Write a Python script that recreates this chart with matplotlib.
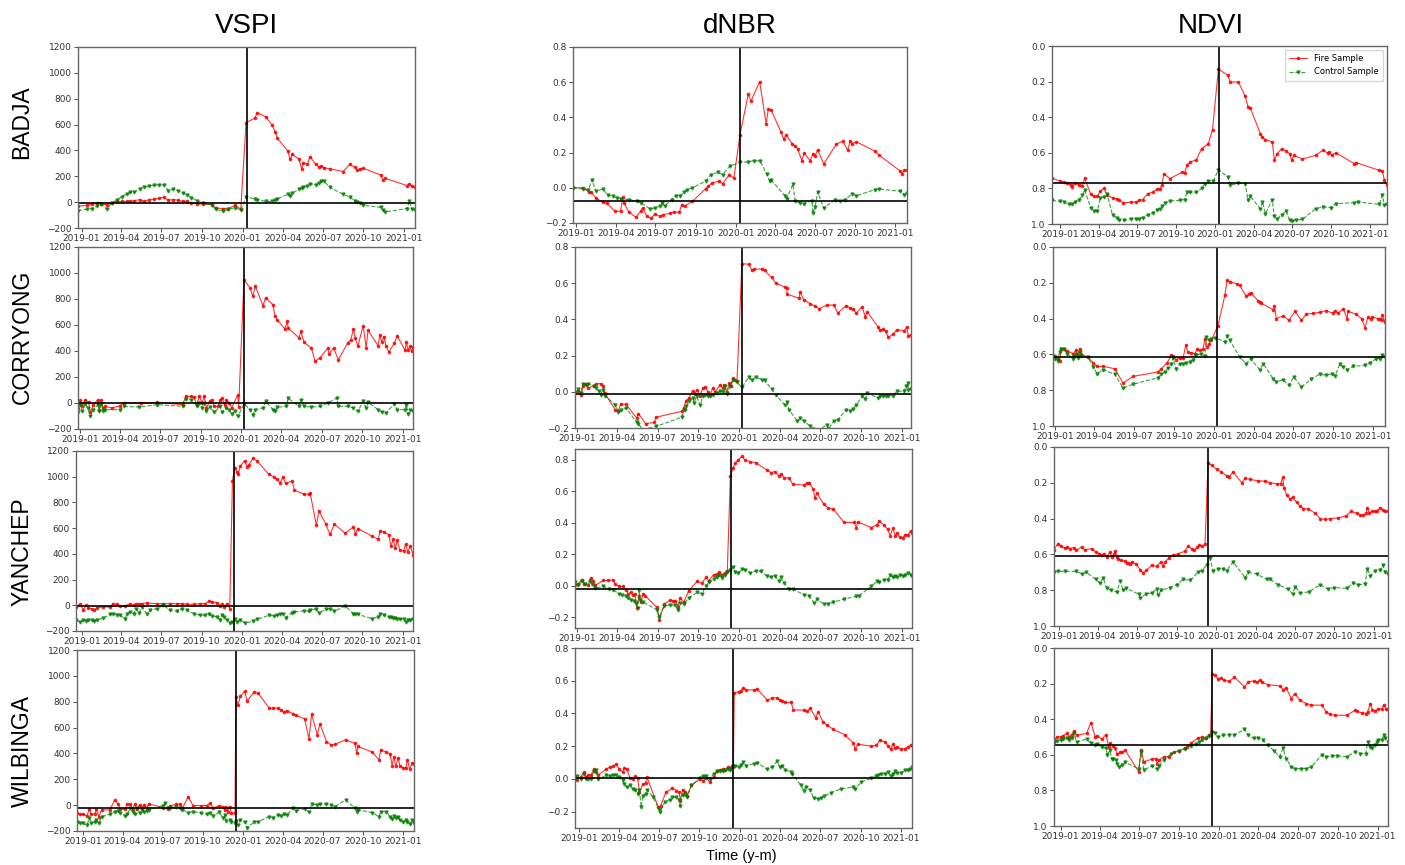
import numpy as np
import pandas as pd
import matplotlib
matplotlib.use('Agg')
import matplotlib.pyplot as plt
import matplotlib.dates as mdates

START = pd.Timestamp('2019-01-01')

SITES = ['BADJA', 'CORRYONG', 'YANCHEP', 'WILBINGA']
INDICES = ['VSPI', 'dNBR', 'NDVI']

# fire date per site (days since 2019-01-01)
FIRE_DAY = [374, 371, 346, 350]
# pre-fire reference level per site
BASE_VSPI = [-5, -3, -2, -19]
BASE_DNBR = [-0.077, -0.01, -0.021, 0.004]
BASE_NDVI = [0.77, 0.615, 0.607, 0.547]

# ---------------- BADJA ----------------
badja_vspi_days = [-8, 13, 23, 34, 45, 57, 68, 81, 91, 102, 111, 119, 132, 142, 153, 164, 176, 187, 197, 208,
                   219, 231, 240, 249, 262, 276, 295, 304, 321, 333, 348, 361, 373, 393, 398, 418, 431, 439, 444, 467,
                   473, 478, 493, 499, 503, 512, 518, 531, 538, 544, 550, 563, 593, 608, 620, 625, 631, 639, 678, 683,
                   689, 738, 743, 749, 756]
badja_vspi_fire = [-30, -25, -15, -10, -15, -20, -5, 5, 5, 5, 5, 10, 20, 5, 20, 22, 30, 38, 15, 20,
                   15, 5, 5, -5, -12, -15, -20, -45, -50, -50, -25, -55, 615, 650, 692, 660, 600, 545, 495, 398,
                   330, 372, 330, 258, 305, 294, 352, 292, 272, 276, 266, 258, 237, 292, 270, 247, 258, 262, 210, 172,
                   183, 128, 142, 122, 118]
badja_vspi_ctrl = [-65, -55, -50, -30, -15, -55, -10, 20, 40, 65, 75, 75, 105, 115, 125, 130, 135, 130, 90, 100,
                   90, 70, 55, 35, 10, -10, -20, -55, -70, -55, -45, -60, 40, 25, 20, 5, 5, 15, 25, 60,
                   50, 70, 100, 110, 115, 125, 140, 135, 150, 160, 160, 115, 60, 40, 10, 0, -10, -25, -40, -60,
                   -75, -50, 10, -55, -60]

badja_dnbr_fire_days = [-8, 15, 29, 34, 44, 60, 69, 88, 101, 106, 109, 120, 136, 147, 152, 161, 171, 180, 191, 199,
                        214, 224, 236, 241, 249, 266, 296, 302, 310, 327, 335, 350, 361, 375, 394, 400, 420, 435, 440, 446,
                        469, 475, 481, 494, 502, 507, 517, 522, 536, 542, 547, 553, 567, 596, 611, 622, 628, 632, 642, 685,
                        693, 743, 747, 752, 758]
badja_dnbr_fire = [0.0, 0.0, -0.026, -0.025, -0.058, -0.08, -0.087, -0.133, -0.133, -0.054,
                   -0.087, -0.137, -0.168, -0.133, -0.113, -0.162, -0.172, -0.149, -0.162, -0.152,
                   -0.145, -0.137, -0.139, -0.096, -0.102, -0.077, -0.005, 0.008, 0.027, 0.037,
                   0.022, 0.075, 0.056, 0.302, 0.533, 0.491, 0.603, 0.364, 0.448, 0.444,
                   0.317, 0.277, 0.302, 0.251, 0.236, 0.222, 0.154, 0.198, 0.154, 0.192,
                   0.179, 0.217, 0.135, 0.249, 0.264, 0.213, 0.268, 0.251, 0.262, 0.207,
                   0.188, 0.094, 0.08, 0.099, 0.099]
badja_dnbr_ctrl_days = [-8, 15, 27, 36, 44, 60, 73, 84, 93, 103, 121, 138, 149, 168, 180, 191, 195, 203, 218, 228,
                        237, 247, 253, 266, 296, 308, 325, 335, 351, 375, 394, 406, 421, 436, 443, 446, 479, 482, 496, 502,
                        513, 522, 540, 542, 547, 553, 567, 593, 605, 616, 632, 642, 685, 693, 743, 752, 758]
badja_dnbr_ctrl = [0.0, -0.007, -0.01, 0.046, -0.02, -0.007, -0.043, -0.048, -0.058, -0.064,
                   -0.067, -0.077, -0.087, -0.119, -0.115, -0.105, -0.087, -0.102, -0.067, -0.045,
                   -0.045, -0.026, -0.011, 0.0, 0.037, 0.075, 0.088, 0.075, 0.122, 0.145,
                   0.147, 0.154, 0.152, 0.08, 0.037, 0.046, -0.048, -0.062, 0.019, -0.077,
                   -0.087, -0.09, -0.073, -0.143, -0.109, -0.024, -0.115, -0.067, -0.073, -0.067,
                   -0.035, -0.045, -0.01, -0.007, -0.02, -0.039, -0.03]

badja_ndvi_fire_days = [-20, -2, 8, 16, 24, 28, 34, 44, 52, 57, 71, 78, 87, 94, 102, 110, 123, 133, 139, 147,
                        167, 179, 186, 194, 206, 218, 228, 234, 240, 244, 258, 288, 293, 299, 307, 321, 333, 349, 359, 373,
                        395, 401, 420, 436, 443, 448, 472, 476, 484, 500, 505, 512, 522, 533, 541, 546, 551, 571, 603, 619,
                        631, 634, 641, 650, 694, 698, 753, 760, 765, 771]
badja_ndvi_fire = [0.742, 0.758, 0.766, 0.77, 0.783, 0.79, 0.77, 0.779, 0.785, 0.742,
                   0.83, 0.845, 0.845, 0.815, 0.80, 0.835, 0.854, 0.858, 0.863, 0.882,
                   0.876, 0.876, 0.867, 0.863, 0.83, 0.82, 0.805, 0.805, 0.779, 0.717,
                   0.745, 0.708, 0.712, 0.667, 0.652, 0.639, 0.577, 0.549, 0.47, 0.129,
                   0.165, 0.202, 0.202, 0.281, 0.343, 0.347, 0.493, 0.511, 0.526, 0.539,
                   0.639, 0.605, 0.577, 0.59, 0.605, 0.642, 0.614, 0.635, 0.614, 0.586,
                   0.601, 0.595, 0.614, 0.6, 0.661, 0.655, 0.699, 0.702, 0.755, 0.783]
badja_ndvi_ctrl_days = [-20, -2, 8, 20, 28, 34, 44, 52, 57, 71, 78, 87, 94, 102, 110, 123, 133, 139, 151, 167,
                        179, 186, 194, 206, 218, 228, 234, 240, 246, 258, 282, 293, 299, 307, 321, 333, 341, 349, 361, 373,
                        395, 401, 420, 436, 443, 448, 472, 477, 484, 500, 505, 512, 522, 533, 541, 546, 555, 571, 603, 619,
                        638, 650, 694, 702, 753, 760, 765, 771]
badja_ndvi_ctrl = [0.867, 0.873, 0.876, 0.89, 0.89, 0.876, 0.863, 0.839, 0.807, 0.908,
                   0.927, 0.927, 0.854, 0.848, 0.83, 0.951, 0.964, 0.976, 0.979, 0.97,
                   0.97, 0.97, 0.964, 0.948, 0.938, 0.92, 0.914, 0.90, 0.882, 0.871,
                   0.867, 0.863, 0.82, 0.822, 0.822, 0.80, 0.773, 0.758, 0.758, 0.695,
                   0.736, 0.783, 0.77, 0.773, 0.867, 0.845, 0.914, 0.876, 0.942, 0.863,
                   0.957, 0.97, 0.948, 0.927, 0.979, 0.983, 0.979, 0.974, 0.914, 0.904,
                   0.908, 0.886, 0.88, 0.876, 0.89, 0.839, 0.895, 0.89]

# ---------------- CORRYONG ----------------
corryong_vspi_fire_days = [-5, 0, 5, 11, 19, 23, 30, 40, 43, 48, 52, 57, 72, 91, 99, 137, 175, 232, 239, 251,
                           258, 264, 270, 276, 281, 286, 293, 298, 304, 312, 317, 321, 327, 331, 338, 343, 357, 359, 371, 385,
                           391, 397, 414, 420, 437, 441, 446, 464, 469, 471, 496, 500, 507, 524, 532, 543, 561, 564, 574, 585,
                           606, 613, 619, 623, 629, 641, 648, 652, 675, 679, 683, 688, 693, 699, 712, 718, 736, 739, 743, 747,
                           751, 754]
corryong_vspi_fire = [-38, 21, -20, 26, 5, -72, -13, 26, -51, 21, -38, -26, -38, -20, 0, 0, 5, -13, 51, 51,
                      44, -18, 56, 0, 51, -38, 13, 26, -26, -26, 21, 38, -13, 26, 0, -38, 64, -33, 949, 885,
                      821, 897, 749, 808, 756, 667, 641, 569, 628, 577, 500, 551, 467, 423, 321, 346, 423, 379, 423, 333,
                      462, 487, 569, 500, 436, 595, 423, 559, 441, 526, 467, 508, 441, 390, 462, 518, 405, 467, 405, 436,
                      397, 431]
corryong_vspi_ctrl_days = [-5, 0, 5, 11, 17, 23, 30, 40, 43, 48, 52, 57, 91, 99, 133, 175, 232, 239, 251, 264,
                           270, 276, 281, 286, 293, 304, 317, 321, 331, 338, 343, 350, 357, 371, 385, 391, 397, 414, 420, 437,
                           441, 446, 467, 471, 496, 500, 507, 524, 543, 561, 581, 585, 606, 619, 629, 641, 648, 652, 675, 683,
                           693, 712, 718, 736, 739, 743, 747, 754]
corryong_vspi_ctrl = [-72, -13, -64, -8, -38, -103, -51, -13, -59, -5, -64, -51, -51, -26, -31, -13, -26, 31, 26, -20,
                      0, -38, 0, -64, -31, -72, -26, -72, -38, -51, -85, -64, -103, -8, -51, -90, -51, -38, 13, -51,
                      -64, -33, -26, 38, -26, 26, -26, -31, -26, 0, 38, -26, -26, -38, -64, 13, -38, 5, -51, -72,
                      -77, -5, -51, -51, -13, -85, -51, -64]

corryong_dnbr_fire_days = [-5, 2, 8, 13, 19, 25, 38, 43, 53, 58, 62, 86, 93, 98, 110, 134, 138, 154, 174, 177,
                           235, 240, 245, 252, 260, 265, 270, 277, 283, 288, 295, 299, 305, 311, 322, 328, 331, 337, 343, 346,
                           351, 356, 360, 371, 386, 394, 398, 417, 422, 438, 447, 467, 472, 473, 500, 502, 510, 525, 536, 545,
                           563, 578, 587, 606, 614, 621, 629, 642, 649, 653, 678, 682, 689, 695, 701, 712, 720, 737, 742, 746,
                           752]
corryong_dnbr_fire = [-0.007, 0.007, -0.02, 0.03, 0.045, 0.021, 0.034, 0.045, 0.045, 0.034,
                      -0.007, -0.1, -0.104, -0.066, -0.07, -0.145, -0.12, -0.176, -0.169, -0.141,
                      -0.108, -0.09, -0.049, -0.034, 0.007, -0.01, 0.01, -0.022, 0.021, 0.025,
                      0.0, -0.02, 0.02, 0.0, 0.039, 0.02, 0.04, 0.0, 0.049, 0.03,
                      0.076, 0.065, 0.06, 0.708, 0.705, 0.671, 0.678, 0.678, 0.671, 0.632,
                      0.601, 0.579, 0.575, 0.54, 0.516, 0.553, 0.509, 0.487, 0.472, 0.459,
                      0.479, 0.479, 0.435, 0.476, 0.465, 0.455, 0.435, 0.47, 0.413, 0.443,
                      0.358, 0.343, 0.345, 0.335, 0.301, 0.319, 0.343, 0.338, 0.358, 0.31,
                      0.316]
corryong_dnbr_ctrl_days = [-5, 2, 8, 13, 19, 25, 38, 43, 48, 53, 57, 63, 86, 93, 98, 110, 134, 138, 148, 178,
                           235, 242, 246, 252, 260, 263, 269, 277, 283, 288, 295, 299, 307, 314, 322, 328, 333, 337, 345, 351,
                           360, 371, 386, 394, 402, 417, 422, 438, 447, 467, 473, 477, 496, 502, 510, 525, 545, 563, 566, 578,
                           587, 606, 614, 621, 629, 642, 649, 653, 678, 682, 689, 695, 701, 712, 720, 737, 741, 745, 746, 752]
corryong_dnbr_ctrl = [-0.007, 0.015, -0.007, 0.043, 0.039, 0.045, 0.03, 0.021, 0.003, -0.016,
                      0.012, -0.025, -0.071, -0.113, -0.099, -0.09, -0.169, -0.178, -0.209, -0.191,
                      -0.141, -0.099, -0.077, -0.053, -0.034, -0.062, -0.025, -0.075, -0.025, -0.016,
                      -0.025, -0.021, -0.016, -0.007, 0.003, -0.003, 0.03, -0.01, 0.034, 0.067,
                      0.052, 0.024, 0.08, 0.063, 0.082, 0.067, 0.063, 0.015, -0.016, -0.071,
                      -0.058, -0.099, -0.163, -0.145, -0.16, -0.191, -0.209, -0.182, -0.206, -0.16,
                      -0.154, -0.099, -0.108, -0.095, -0.071, -0.025, -0.04, -0.007, -0.034, -0.025,
                      -0.021, -0.025, -0.021, -0.021, 0.003, 0.003, 0.03, 0.049, 0.012, 0.015]

corryong_ndvi_fire_days = [-5, 0, 6, 10, 14, 21, 27, 42, 48, 52, 56, 60, 75, 88, 96, 110, 137, 156, 179, 236,
                           244, 257, 267, 271, 278, 286, 294, 300, 305, 313, 321, 326, 332, 340, 344, 350, 354, 359, 374, 390,
                           395, 401, 418, 424, 439, 446, 449, 466, 470, 474, 501, 504, 508, 524, 537, 551, 566, 577, 593, 608,
                           622, 638, 643, 650, 662, 671, 673, 692, 704, 712, 719, 725, 729, 742, 746, 750, 752, 758]
corryong_ndvi_fire = [0.615, 0.611, 0.624, 0.637, 0.568, 0.568, 0.581, 0.596, 0.574, 0.605,
                      0.568, 0.6, 0.615, 0.648, 0.667, 0.667, 0.68, 0.76, 0.723, 0.698,
                      0.68, 0.648, 0.605, 0.611, 0.629, 0.62, 0.62, 0.55, 0.587, 0.592,
                      0.596, 0.572, 0.577, 0.572, 0.512, 0.559, 0.54, 0.521, 0.44, 0.27,
                      0.185, 0.195, 0.205, 0.215, 0.275, 0.26, 0.255, 0.3, 0.31, 0.315,
                      0.35, 0.33, 0.4, 0.385, 0.41, 0.36, 0.41, 0.375, 0.37, 0.365,
                      0.355, 0.37, 0.355, 0.37, 0.345, 0.4, 0.36, 0.375, 0.4, 0.45,
                      0.39, 0.4, 0.39, 0.4, 0.405, 0.41, 0.38, 0.42]
corryong_ndvi_ctrl_days = [-5, 0, 6, 10, 14, 21, 27, 42, 44, 48, 52, 56, 60, 75, 88, 96, 110, 137, 156, 179,
                           236, 244, 252, 259, 267, 271, 278, 286, 294, 301, 309, 317, 324, 336, 344, 347, 353, 359, 367, 390,
                           395, 401, 424, 439, 449, 470, 478, 501, 508, 524, 537, 548, 566, 589, 608, 622, 637, 643, 654, 662,
                           671, 685, 712, 723, 738, 746, 752, 758]
corryong_ndvi_ctrl = [0.611, 0.624, 0.637, 0.587, 0.568, 0.568, 0.596, 0.624, 0.611, 0.6,
                      0.618, 0.587, 0.611, 0.615, 0.67, 0.708, 0.685, 0.711, 0.788, 0.767,
                      0.73, 0.711, 0.698, 0.674, 0.652, 0.62, 0.68, 0.655, 0.652, 0.646,
                      0.642, 0.629, 0.605, 0.596, 0.611, 0.503, 0.521, 0.512, 0.506, 0.531,
                      0.499, 0.521, 0.615, 0.652, 0.624, 0.685, 0.652, 0.736, 0.754, 0.741,
                      0.773, 0.726, 0.782, 0.736, 0.711, 0.717, 0.708, 0.72, 0.655, 0.67,
                      0.685, 0.667, 0.661, 0.648, 0.624, 0.624, 0.605, 0.615]

# ---------------- YANCHEP ----------------
yanchep_vspi_fire_days = [-13, -4, 4, 10, 15, 23, 28, 34, 49, 65, 71, 80, 87, 99, 110, 118, 124, 131, 137, 148,
                          171, 186, 201, 217, 228, 239, 255, 270, 281, 289, 296, 308, 315, 319, 324, 331, 337, 343, 348, 353,
                          356, 361, 371, 376, 380, 390, 399, 426, 437, 445, 452, 458, 464, 479, 484, 505, 517, 520, 534, 540,
                          555, 565, 575, 600, 618, 623, 628, 661, 675, 679, 689, 699, 704, 709, 714, 718, 724, 733, 737, 742,
                          748, 754]
yanchep_vspi_fire = [-13, 8, -34, 0, -21, -26, -39, -18, -13, -13, 13, 8, -8, -5, 13, 0, 13, 8, 13, 18,
                     13, 13, 13, 13, 13, 8, 8, 13, 13, 31, 26, 21, -8, 13, -13, 13, -26, 966, 1065, 1039,
                     1018, 1083, 1125, 1078, 1091, 1143, 1122, 1018, 1000, 979, 953, 1000, 948, 966, 896, 865, 865, 870, 623, 735,
                     636, 551, 631, 559, 610, 553, 597, 538, 512, 577, 571, 546, 460, 512, 442, 507, 429, 424, 476, 416,
                     460, 395]
yanchep_vspi_ctrl_days = [-13, -4, 4, 10, 15, 23, 28, 34, 49, 65, 71, 80, 87, 99, 103, 110, 118, 124, 131, 137,
                          148, 156, 171, 186, 201, 217, 228, 239, 255, 270, 281, 289, 296, 308, 315, 319, 324, 331, 337, 342,
                          348, 353, 361, 371, 390, 399, 426, 437, 445, 452, 458, 464, 479, 484, 505, 517, 520, 534, 540, 555,
                          565, 575, 600, 618, 623, 628, 661, 675, 679, 689, 699, 704, 709, 714, 718, 724, 733, 737, 742, 748,
                          754]
yanchep_vspi_ctrl = [-117, -130, -117, -122, -112, -117, -122, -117, -99, -70, -65, -73, -78, -104, -65, -52, -65, -26, -60, -13,
                     -65, -39, -26, 0, -39, -47, -26, -39, -65, -78, -78, -65, -83, -91, -112, -78, -91, -117, -138, -130,
                     -104, -130, -112, -138, -125, -109, -78, -83, -78, -70, -65, -96, -57, -52, -44, -47, -39, -26, -60, -31,
                     -26, -47, -5, -65, -65, -70, -104, -91, -65, -78, -91, -91, -99, -96, -104, -104, -109, -130, -117, -117,
                     -109]

yanchep_dnbr_fire_days = [-5, 2, 10, 15, 25, 30, 36, 40, 59, 70, 80, 85, 93, 102, 110, 115, 121, 125, 130, 134,
                          139, 143, 149, 153, 179, 185, 196, 209, 216, 221, 227, 231, 240, 251, 270, 281, 290, 296, 307, 315,
                          320, 326, 332, 338, 345, 351, 356, 362, 372, 377, 390, 402, 427, 436, 445, 454, 460, 466, 477, 485,
                          511, 518, 522, 532, 535, 540, 555, 565, 577, 601, 624, 628, 632, 662, 675, 680, 690, 699, 705, 711,
                          716, 720, 726, 733, 738, 745, 751, 754]
yanchep_dnbr_fire = [0.001, 0.012, 0.037, 0.012, 0.001, 0.048, 0.027, 0.001, 0.033, 0.033,
                     0.037, 0.012, -0.005, -0.005, -0.026, -0.052, -0.043, -0.058, -0.052, -0.143,
                     -0.069, -0.107, -0.052, -0.064, -0.139, -0.217, -0.117, -0.094, -0.096, -0.096,
                     -0.139, -0.079, -0.107, -0.033, 0.027, 0.016, 0.054, 0.031, 0.069, 0.073,
                     0.086, 0.069, 0.08, 0.094, 0.698, 0.75, 0.78, 0.80, 0.825, 0.80,
                     0.79, 0.783, 0.736, 0.72, 0.726, 0.698, 0.711, 0.688, 0.685, 0.647,
                     0.64, 0.656, 0.655, 0.614, 0.556, 0.588, 0.52, 0.493, 0.487, 0.402,
                     0.402, 0.37, 0.406, 0.37, 0.387, 0.412, 0.387, 0.359, 0.319, 0.366,
                     0.319, 0.334, 0.308, 0.305, 0.323, 0.323, 0.349, 0.335]
yanchep_dnbr_ctrl_days = [-5, 2, 10, 17, 29, 34, 40, 59, 72, 81, 93, 100, 110, 115, 121, 127, 133, 136, 139, 142,
                          148, 179, 185, 196, 209, 221, 227, 231, 240, 251, 270, 281, 290, 296, 307, 315, 320, 326, 332, 338,
                          345, 351, 356, 362, 372, 377, 390, 402, 413, 427, 436, 445, 454, 458, 466, 477, 485, 511, 522, 534,
                          540, 555, 565, 577, 601, 628, 635, 662, 675, 680, 690, 699, 705, 711, 716, 720, 726, 733, 738, 745,
                          751, 754]
yanchep_dnbr_ctrl = [0.020, 0.001, 0.027, 0.012, 0.027, 0.012, -0.016, -0.005, -0.02, -0.026,
                     -0.052, -0.058, -0.069, -0.079, -0.09, -0.096, -0.111, -0.143, -0.026, -0.09,
                     -0.105, -0.153, -0.2, -0.132, -0.122, -0.126, -0.158, -0.111, -0.117, -0.079,
                     -0.043, -0.052, -0.001, 0.02, 0.042, 0.052, 0.069, 0.048, 0.069, 0.084,
                     0.097, 0.118, 0.084, 0.08, 0.105, 0.101, 0.08, 0.094, 0.09, 0.063,
                     0.054, 0.063, 0.027, 0.054, 0.016, -0.02, -0.022, -0.058, -0.064, -0.111,
                     -0.086, -0.117, -0.115, -0.105, -0.086, -0.069, -0.064, -0.005, 0.027, 0.020,
                     0.037, 0.033, 0.069, 0.052, 0.063, 0.054, 0.069, 0.063, 0.069, 0.08,
                     0.069, 0.059]

yanchep_ndvi_fire_days = [-11, -2, 6, 14, 19, 26, 35, 41, 53, 60, 76, 86, 94, 99, 104, 111, 118, 124, 128, 130,
                          135, 138, 145, 153, 159, 161, 165, 169, 178, 189, 196, 203, 215, 227, 236, 242, 246, 256, 265, 277,
                          292, 299, 308, 314, 321, 326, 333, 339, 346, 354, 366, 377, 389, 395, 404, 424, 432, 443, 462, 478,
                          490, 505, 514, 519, 522, 528, 536, 542, 551, 559, 567, 578, 594, 606, 617, 629, 648, 666, 677, 691,
                          698, 706, 712, 715, 720, 725, 733, 737, 745, 751, 756, 763]
yanchep_ndvi_fire = [0.574, 0.54, 0.555, 0.564, 0.559, 0.568, 0.562, 0.577, 0.559, 0.574,
                     0.568, 0.587, 0.596, 0.605, 0.596, 0.615, 0.587, 0.615, 0.6, 0.581,
                     0.615, 0.624, 0.633, 0.637, 0.646, 0.648, 0.655, 0.642, 0.652, 0.685,
                     0.704, 0.689, 0.661, 0.667, 0.642, 0.667, 0.642, 0.618, 0.605, 0.596,
                     0.583, 0.555, 0.568, 0.577, 0.559, 0.549, 0.555, 0.544, 0.09, 0.1,
                     0.125, 0.14, 0.16, 0.165, 0.14, 0.2, 0.175, 0.18, 0.19, 0.19,
                     0.2, 0.205, 0.205, 0.17, 0.23, 0.27, 0.29, 0.28, 0.31, 0.33,
                     0.345, 0.345, 0.37, 0.4, 0.405, 0.4, 0.395, 0.385, 0.36, 0.37,
                     0.38, 0.38, 0.37, 0.34, 0.37, 0.36, 0.36, 0.355, 0.34, 0.35,
                     0.36, 0.355]
yanchep_ndvi_ctrl_days = [-11, -2, 14, 41, 53, 64, 86, 95, 103, 111, 122, 134, 143, 149, 157, 186, 189, 203, 215, 227,
                          230, 238, 258, 273, 288, 304, 323, 331, 343, 350, 358, 370, 381, 389, 404, 432, 439, 459, 482, 490,
                          509, 532, 542, 548, 559, 579, 606, 625, 637, 667, 683, 694, 710, 715, 722, 733, 745, 751, 756, 763]
yanchep_ndvi_ctrl = [0.70, 0.695, 0.695, 0.695, 0.71, 0.70, 0.74, 0.76, 0.73, 0.79,
                     0.80, 0.81, 0.75, 0.80, 0.79, 0.823, 0.842, 0.82, 0.815, 0.795,
                     0.825, 0.80, 0.785, 0.77, 0.74, 0.745, 0.70, 0.69, 0.66, 0.62,
                     0.69, 0.68, 0.68, 0.69, 0.642, 0.73, 0.70, 0.71, 0.74, 0.74,
                     0.77, 0.795, 0.82, 0.78, 0.815, 0.81, 0.77, 0.795, 0.785, 0.79,
                     0.76, 0.77, 0.765, 0.68, 0.72, 0.69, 0.685, 0.66, 0.70, 0.71]

# ---------------- WILBINGA ----------------
wilbinga_vspi_days = [-14, -8, 0, 9, 14, 19, 27, 30, 36, 42, 61, 72, 80, 85, 95, 101, 107, 113, 118, 123,
                      129, 135, 139, 145, 150, 183, 194, 198, 213, 221, 227, 240, 251, 270, 282, 291, 297, 311, 320, 324,
                      327, 331, 335, 339, 347, 349, 354, 359, 369, 375, 390, 400, 425, 434, 446, 453, 458, 465, 480, 486,
                      506, 516, 522, 535, 541, 556, 566, 575, 600, 621, 625, 628, 661, 676, 680, 693, 701, 706, 710, 714,
                      720, 724, 731, 737, 741, 746, 752, 756]
wilbinga_vspi_fire = [-63, -71, -71, -81, -29, -71, -68, -32, -89, -37, -37, 40, 7, -32, -32, 7, 7, -29, 7, -32,
                      2, -24, 2, -24, 10, -19, -29, -6, 7, 7, -24, 66, -3, -3, -3, 15, -24, -3, -11, -37,
                      -11, -52, -11, -60, -63, 833, 772, 841, 880, 807, 872, 865, 751, 751, 751, 735, 720, 730, 707, 694,
                      668, 513, 704, 544, 629, 492, 466, 471, 505, 477, 402, 454, 410, 350, 428, 410, 397, 306, 376, 304,
                      363, 300, 291, 285, 350, 280, 324, 320]
wilbinga_vspi_ctrl_days = [-14, -8, 0, 9, 14, 19, 27, 30, 36, 42, 61, 72, 80, 85, 95, 101, 107, 113, 118, 123,
                           129, 135, 139, 145, 150, 183, 187, 194, 198, 213, 221, 227, 240, 251, 270, 282, 291, 297, 311, 320,
                           324, 327, 335, 339, 347, 349, 354, 359, 369, 375, 390, 400, 425, 434, 446, 453, 458, 465, 480, 486,
                           506, 516, 522, 535, 541, 556, 566, 575, 600, 621, 625, 628, 661, 676, 680, 693, 701, 706, 710, 714,
                           720, 724, 731, 737, 741, 746, 752, 756]
wilbinga_vspi_ctrl = [-128, -141, -141, -154, -102, -141, -128, -115, -141, -89, -71, -50, -45, -63, -81, -71, -24, -50, -71, -24,
                      -63, -37, -50, -45, -37, -4, 14, -19, -24, -11, -24, -37, -58, -50, -63, -71, -63, -81, -55, -102,
                      -76, -120, -115, -128, -141, -120, -154, -115, -128, -174, -133, -128, -89, -97, -76, -81, -71, -76, -24, -42,
                      -29, -55, 7, 2, 7, 7, 2, -11, 40, -24, -50, -37, -58, -89, -50, -50, -89, -107, -81, -102,
                      -89, -115, -128, -115, -128, -148, -115, -141]

wilbinga_dnbr_fire_days = [-9, -4, 4, 11, 15, 21, 27, 34, 38, 44, 61, 70, 78, 84, 91, 99, 103, 108, 116, 122,
                           128, 133, 137, 145, 151, 154, 180, 185, 197, 212, 221, 227, 230, 235, 240, 245, 255, 274, 282, 289,
                           297, 305, 312, 320, 326, 331, 337, 343, 347, 350, 352, 362, 367, 373, 379, 396, 404, 427, 438, 448,
                           455, 461, 468, 481, 486, 510, 518, 524, 537, 542, 554, 562, 577, 602, 621, 626, 632, 663, 674, 682,
                           693, 701, 707, 712, 716, 722, 730, 739, 745, 752, 755]
wilbinga_dnbr_fire = [0.0, -0.004, 0.011, 0.042, 0.011, 0.025, 0.021, 0.062, 0.042, 0.025,
                      0.058, 0.073, 0.079, 0.089, 0.062, 0.042, 0.066, 0.062, 0.004, 0.0,
                      0.015, 0.004, -0.082, -0.031, -0.025, 0.011, -0.173, -0.165, -0.082, -0.057,
                      -0.071, -0.082, -0.132, -0.065, -0.082, -0.102, -0.04, 0.0, -0.01, 0.004,
                      -0.02, 0.011, 0.046, 0.052, 0.062, 0.052, 0.073, 0.066, 0.079, 0.073,
                      0.523, 0.534, 0.538, 0.558, 0.544, 0.544, 0.548, 0.482, 0.493, 0.497,
                      0.482, 0.478, 0.468, 0.468, 0.421, 0.421, 0.415, 0.431, 0.374, 0.41,
                      0.345, 0.329, 0.302, 0.271, 0.222, 0.185, 0.212, 0.2, 0.206, 0.236,
                      0.226, 0.202, 0.181, 0.216, 0.19, 0.196, 0.181, 0.185, 0.196, 0.206,
                      0.21]
wilbinga_dnbr_ctrl_days = [-9, -4, 4, 11, 15, 21, 27, 34, 38, 44, 61, 70, 78, 84, 91, 99, 103, 108, 116, 122,
                           128, 133, 137, 141, 145, 151, 154, 168, 181, 184, 194, 206, 212, 221, 227, 230, 235, 240, 245, 255,
                           274, 282, 289, 297, 305, 312, 320, 326, 331, 337, 343, 347, 350, 353, 362, 367, 373, 379, 396, 404,
                           427, 438, 449, 455, 461, 468, 480, 484, 503, 510, 514, 524, 532, 541, 548, 556, 571, 594, 621, 625,
                           640, 663, 674, 679, 685, 693, 701, 707, 712, 716, 722, 730, 739, 745, 750, 755]
wilbinga_dnbr_ctrl = [0.0, 0.015, 0.0, 0.032, 0.0, -0.003, 0.0, 0.046, 0.052, -0.003,
                      0.021, 0.017, 0.021, 0.021, 0.011, -0.009, -0.03, -0.05, -0.04, -0.061,
                      -0.065, -0.091, -0.065, -0.173, -0.102, -0.091, -0.065, -0.112, -0.184, -0.204,
                      -0.143, -0.126, -0.112, -0.112, -0.126, -0.163, -0.098, -0.091, -0.112, -0.04,
                      0.005, 0.015, 0.015, -0.003, 0.032, 0.046, 0.046, 0.046, 0.052, 0.062,
                      0.056, 0.066, 0.079, 0.077, 0.073, 0.087, 0.103, 0.079, 0.093, 0.099,
                      0.058, 0.073, 0.107, 0.073, 0.079, 0.056, 0.042, 0.032, -0.04, -0.071,
                      -0.05, -0.065, -0.118, -0.122, -0.118, -0.106, -0.085, -0.061, -0.05, -0.061,
                      -0.02, 0.005, 0.015, 0.025, 0.032, 0.032, 0.042, 0.017, 0.032, 0.046,
                      0.036, 0.038, 0.052, 0.052, 0.062, 0.073]

wilbinga_ndvi_fire_days = [-15, -8, 0, 6, 14, 20, 26, 31, 37, 60, 70, 80, 85, 95, 105, 111, 114, 121, 126, 131,
                           138, 142, 149, 180, 186, 192, 211, 219, 223, 227, 238, 250, 261, 273, 286, 292, 300, 316, 327, 335,
                           343, 346, 350, 356, 362, 371, 377, 389, 401, 424, 433, 445, 453, 459, 464, 478, 505, 513, 520, 532,
                           540, 551, 567, 578, 602, 613, 621, 633, 660, 679, 683, 694, 704, 708, 714, 719, 725, 733, 741, 745,
                           750, 755]
wilbinga_ndvi_fire = [0.518, 0.499, 0.499, 0.493, 0.48, 0.499, 0.486, 0.467, 0.49, 0.48,
                      0.419, 0.499, 0.493, 0.512, 0.486, 0.555, 0.536, 0.55, 0.564, 0.598,
                      0.587, 0.587, 0.574, 0.695, 0.574, 0.639, 0.624, 0.621, 0.649, 0.63,
                      0.611, 0.611, 0.583, 0.579, 0.564, 0.555, 0.536, 0.508, 0.499, 0.508,
                      0.49, 0.486, 0.144, 0.153, 0.172, 0.168, 0.181, 0.187, 0.163, 0.219,
                      0.191, 0.185, 0.191, 0.181, 0.191, 0.206, 0.213, 0.234, 0.224, 0.284,
                      0.256, 0.293, 0.312, 0.321, 0.321, 0.359, 0.372, 0.378, 0.378, 0.35,
                      0.355, 0.364, 0.368, 0.359, 0.312, 0.346, 0.353, 0.34, 0.344, 0.318,
                      0.34, 0.344]
wilbinga_ndvi_ctrl_days = [-15, -8, 0, 6, 14, 20, 26, 31, 37, 60, 70, 80, 85, 95, 105, 108, 114, 118, 122, 128,
                           131, 136, 142, 149, 180, 186, 192, 211, 223, 227, 238, 254, 273, 286, 300, 312, 319, 327, 335, 343,
                           350, 356, 362, 374, 389, 401, 424, 433, 445, 456, 466, 478, 493, 505, 513, 520, 532, 541, 555, 567,
                           578, 602, 613, 625, 637, 660, 679, 691, 704, 708, 714, 719, 725, 729, 733, 741, 745, 749, 755]
wilbinga_ndvi_ctrl = [0.533, 0.523, 0.518, 0.514, 0.508, 0.518, 0.508, 0.475, 0.527, 0.512,
                      0.536, 0.546, 0.542, 0.555, 0.564, 0.602, 0.574, 0.621, 0.624, 0.63,
                      0.649, 0.667, 0.658, 0.643, 0.677, 0.587, 0.686, 0.662, 0.68, 0.662,
                      0.63, 0.598, 0.579, 0.568, 0.551, 0.542, 0.527, 0.518, 0.508, 0.493,
                      0.471, 0.475, 0.499, 0.49, 0.486, 0.49, 0.456, 0.49, 0.508, 0.505,
                      0.518, 0.546, 0.579, 0.611, 0.564, 0.621, 0.667, 0.68, 0.677, 0.677,
                      0.667, 0.602, 0.611, 0.606, 0.607, 0.611, 0.583, 0.593, 0.593, 0.527,
                      0.555, 0.564, 0.546, 0.527, 0.518, 0.518, 0.49, 0.508, 0.527]

# (fire days, fire values, control days, control values) for every panel
PANELS = [
    [(badja_vspi_days, badja_vspi_fire, badja_vspi_days, badja_vspi_ctrl),
     (badja_dnbr_fire_days, badja_dnbr_fire, badja_dnbr_ctrl_days, badja_dnbr_ctrl),
     (badja_ndvi_fire_days, badja_ndvi_fire, badja_ndvi_ctrl_days, badja_ndvi_ctrl)],
    [(corryong_vspi_fire_days, corryong_vspi_fire, corryong_vspi_ctrl_days, corryong_vspi_ctrl),
     (corryong_dnbr_fire_days, corryong_dnbr_fire, corryong_dnbr_ctrl_days, corryong_dnbr_ctrl),
     (corryong_ndvi_fire_days, corryong_ndvi_fire, corryong_ndvi_ctrl_days, corryong_ndvi_ctrl)],
    [(yanchep_vspi_fire_days, yanchep_vspi_fire, yanchep_vspi_ctrl_days, yanchep_vspi_ctrl),
     (yanchep_dnbr_fire_days, yanchep_dnbr_fire, yanchep_dnbr_ctrl_days, yanchep_dnbr_ctrl),
     (yanchep_ndvi_fire_days, yanchep_ndvi_fire, yanchep_ndvi_ctrl_days, yanchep_ndvi_ctrl)],
    [(wilbinga_vspi_days, wilbinga_vspi_fire, wilbinga_vspi_ctrl_days, wilbinga_vspi_ctrl),
     (wilbinga_dnbr_fire_days, wilbinga_dnbr_fire, wilbinga_dnbr_ctrl_days, wilbinga_dnbr_ctrl),
     (wilbinga_ndvi_fire_days, wilbinga_ndvi_fire, wilbinga_ndvi_ctrl_days, wilbinga_ndvi_ctrl)],
]

# axes boxes in pixels: left, top, right, bottom
BOXES = [
    [(78, 47, 415, 228), (573, 47, 907, 223), (1052, 46, 1387, 224)],
    [(78, 247, 413, 429), (575, 247, 911, 428), (1053, 247, 1385, 426)],
    [(76, 451, 413, 631), (575, 449, 912, 628), (1054, 447, 1388, 626)],
    [(77, 650, 414, 831), (575, 648, 912, 828), (1054, 648, 1388, 826)],
]
DNBR_YLIM = [(-0.2, 0.8), (-0.2, 0.8), (-0.27, 0.87), (-0.3, 0.8)]

W, H = 1405, 865


def to_dates(days):
    return START + pd.to_timedelta(np.asarray(days), unit='D')


fig = plt.figure(figsize=(W / 100, H / 100), dpi=100)

for r, site in enumerate(SITES):
    for c, idx in enumerate(INDICES):
        l, t, rr, b = BOXES[r][c]
        ax = fig.add_axes([l / W, 1 - b / H, (rr - l) / W, (b - t) / H])
        fd, fv, cd, cv = PANELS[r][c]

        ax.plot(to_dates(fd), fv, color='red', lw=0.8, marker='.', ms=3.2, alpha=0.8, label='Fire Sample')
        ax.plot(to_dates(cd), cv, color='green', lw=0.8, ls='--', marker='v', ms=2.2, alpha=0.75,
                label='Control Sample')

        base = [BASE_VSPI, BASE_DNBR, BASE_NDVI][c][r]
        ax.axhline(base, color='black', lw=1.2)
        ax.axvline(to_dates([FIRE_DAY[r]])[0], color='black', lw=1.2)

        lo = min(min(fd), min(cd))
        hi = max(max(fd), max(cd))
        ax.set_xlim(to_dates([lo])[0], to_dates([hi])[0])

        if idx == 'VSPI':
            ax.set_ylim(-200, 1200)
            ax.set_yticks(np.arange(-200, 1201, 200))
        elif idx == 'dNBR':
            ax.set_ylim(*DNBR_YLIM[r])
            ax.set_yticks(np.arange(-0.2, 0.81, 0.2))
        else:
            ax.set_ylim(1.0, 0.0)
            ax.set_yticks(np.arange(0.0, 1.01, 0.2))

        ax.xaxis.set_major_locator(mdates.MonthLocator(bymonth=[1, 4, 7, 10]))
        ax.xaxis.set_major_formatter(mdates.DateFormatter('%Y-%m'))
        ax.tick_params(labelsize=6.5, length=3, width=0.6, colors='#333333', pad=1.5)
        for s in ax.spines.values():
            s.set_color('#666666')
            s.set_linewidth(1.0)

        if r == 0 and c == 2:
            ax.legend(loc='upper right', fontsize=6, frameon=True, fancybox=False,
                      edgecolor='#cccccc', handlelength=2.2, borderpad=0.5)

# column headers
for x, name in zip([246, 740, 1211], INDICES):
    fig.text(x / W, 1 - 26 / H, name, ha='center', va='center', fontsize=20, family='Liberation Sans')

# site names
for y, site in zip([122, 337, 552, 751], SITES):
    fig.text(22 / W, 1 - y / H, site, ha='center', va='center', rotation=90, fontsize=16.5,
             family='Liberation Sans')

fig.text(741 / W, 1 - 856 / H, 'Time (y-m)', ha='center', va='center', fontsize=10.5, family='Liberation Sans')

fig.savefig('out.png', dpi=100)
